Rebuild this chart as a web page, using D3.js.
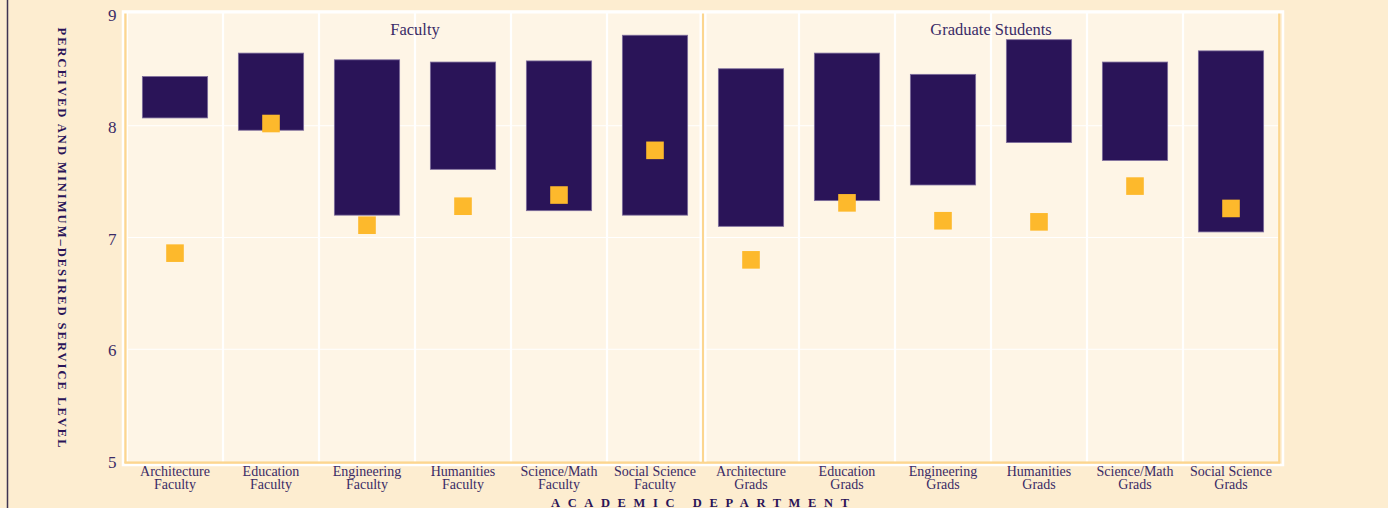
<!DOCTYPE html>
<html><head><meta charset="utf-8">
<script src="https://cdn.jsdelivr.net/npm/d3@7"></script>
<style>
html,body{margin:0;padding:0;background:#FDEDD0;}
svg{display:block;}
</style></head><body>
<svg id="chart" width="1388" height="508"></svg>
<script>
// ---- data ----
const departments = ["Architecture","Education","Engineering","Humanities","Science/Math","Social Science"];
const groups = ["Faculty","Graduate Students"];
const groupSuffix = ["Faculty","Grads"];
const facultyMinimum   = [8.07, 7.96, 7.20, 7.61, 7.24, 7.20];
const facultyDesired   = [8.44, 8.65, 8.59, 8.57, 8.58, 8.81];
const facultyPerceived = [6.86, 8.02, 7.11, 7.28, 7.38, 7.78];
const gradMinimum      = [7.10, 7.33, 7.47, 7.85, 7.69, 7.05];
const gradDesired      = [8.51, 8.65, 8.46, 8.77, 8.57, 8.67];
const gradPerceived    = [6.80, 7.31, 7.15, 7.14, 7.46, 7.26];
const yTicks = [5, 6, 7, 8, 9];
const yTitle = "PERCEIVED AND MINIMUM\u2013DESIRED SERVICE LEVEL";
const xTitle = "ACADEMIC DEPARTMENT";

(function () {
// ---- style ----
const FONT = "'Palatino Linotype','Book Antiqua',Palatino,'Liberation Serif','DejaVu Serif',serif";
const C = {
  bg: "#FDEDD0", panel: "#FEF5E6", orange: "#FCD690", bar: "#2A1458",
  barEdge: "#7C6C9C", point: "#FDB92C", text: "#3A2B66", title: "#2A1458", rule: "#3F3452"
};

const svg = d3.select("#chart");
const pTop = 13, pBottom = 461.5;
const y = d3.scaleLinear().domain([5, 9]).range([461, 14]);

const panels = [
  {name: groups[0], suffix: groupSuffix[0], x0: 127, x1: 703, min: facultyMinimum, des: facultyDesired, per: facultyPerceived},
  {name: groups[1], suffix: groupSuffix[1], x0: 703, x1: 1279, min: gradMinimum, des: gradDesired, per: gradPerceived}
];

// left vertical rule
svg.append("line").attr("x1", 7.5).attr("x2", 7.5).attr("y1", 0).attr("y2", 508)
  .attr("stroke", C.rule).attr("stroke-width", 1.5);

// outer white frame
svg.append("rect").attr("x", 123).attr("y", 11.5).attr("width", 1160).attr("height", 453.5)
  .attr("fill", "none").attr("stroke", "#FFFFFF").attr("stroke-width", 2.5);

panels.forEach(p => {
  const x = d3.scaleBand().domain(departments).range([p.x0, p.x1]).paddingInner(0.32).paddingOuter(0.16);
  const step = x.step();
  const g = svg.append("g");
  g.append("rect").attr("x", p.x0).attr("y", pTop).attr("width", p.x1 - p.x0).attr("height", pBottom - pTop)
    .attr("fill", C.panel);
  // horizontal grid
  g.selectAll(".hg").data(yTicks.filter(t => t > 5 && t < 9)).join("line")
    .attr("x1", p.x0).attr("x2", p.x1).attr("y1", d => y(d)).attr("y2", d => y(d))
    .attr("stroke", "#FFFFFF").attr("stroke-width", 1.2);
  // vertical band boundaries
  const bounds = departments.map(d => x(d) + x.bandwidth() / 2 - step / 2).concat([p.x1]);
  g.selectAll(".vg").data(bounds).join("line")
    .attr("x1", d => d).attr("x2", d => d).attr("y1", pTop).attr("y2", pBottom)
    .attr("stroke", "#FFFFFF").attr("stroke-width", 2.2);
  // bars (minimum -> desired)
  g.selectAll(".bar").data(departments).join("rect")
    .attr("x", d => x(d)).attr("width", x.bandwidth())
    .attr("y", (d, i) => y(p.des[i])).attr("height", (d, i) => y(p.min[i]) - y(p.des[i]))
    .attr("fill", C.bar).attr("stroke", C.barEdge).attr("stroke-width", 0.8);
  // perceived points
  const s = 17.6;
  g.selectAll(".pt").data(departments).join("rect")
    .attr("x", d => x(d) + x.bandwidth() / 2 - s / 2).attr("width", s)
    .attr("y", (d, i) => y(p.per[i]) - s / 2).attr("height", s)
    .attr("fill", C.point);
  // facet label
  g.append("text").attr("x", (p.x0 + p.x1) / 2).attr("y", 34.5).attr("text-anchor", "middle")
    .attr("font-family", FONT).attr("font-size", 16.5).attr("fill", C.text).text(p.name);
  // x labels
  const lab = g.selectAll(".xl").data(departments).join("text")
    .attr("text-anchor", "middle").attr("font-family", FONT).attr("font-size", 14).attr("fill", C.text);
  lab.append("tspan").attr("x", d => x(d) + x.bandwidth() / 2).attr("y", 475.5).text(d => d);
  lab.append("tspan").attr("x", d => x(d) + x.bandwidth() / 2).attr("y", 488.5).text(p.suffix);
});

// orange frame lines
const orange = [[125.5, 13, 125.5, 463], [703, 13, 703, 462], [1279.2, 13, 1279.2, 463], [124.5, 462.7, 1280.2, 462.7]];
svg.selectAll(".ol").data(orange).join("line")
  .attr("x1", d => d[0]).attr("y1", d => d[1]).attr("x2", d => d[2]).attr("y2", d => d[3])
  .attr("stroke", C.orange).attr("stroke-width", 2.2);
// white sides around separator
[700.6, 705.4].forEach(xx => svg.append("line").attr("x1", xx).attr("x2", xx).attr("y1", pTop).attr("y2", pBottom)
  .attr("stroke", "#FFFFFF").attr("stroke-width", 2.2));
svg.append("line").attr("x1", 124).attr("x2", 1282).attr("y1", 12.6).attr("y2", 12.6)
  .attr("stroke", "#FFFFFF").attr("stroke-width", 1.6);

// y tick labels
svg.selectAll(".yt").data(yTicks).join("text")
  .attr("x", 116.5).attr("y", d => y(d) + 7).attr("text-anchor", "end")
  .attr("font-family", FONT).attr("font-size", 17).attr("fill", C.text).text(d => d);

// y title
svg.append("text").attr("transform", "translate(58,237.5) rotate(90)")
  .attr("text-anchor", "middle").attr("font-family", FONT).attr("font-size", 12.5).attr("font-weight", "bold")
  .attr("fill", C.title).attr("textLength", 420).attr("lengthAdjust", "spacing").text(yTitle);

// x title
svg.append("text").attr("x", 700).attr("y", 506.5).attr("text-anchor", "middle")
  .attr("font-family", FONT).attr("font-size", 12.5).attr("font-weight", "bold")
  .attr("fill", C.title).attr("textLength", 298).attr("lengthAdjust", "spacing").text(xTitle);
})();
</script>
</body></html>
